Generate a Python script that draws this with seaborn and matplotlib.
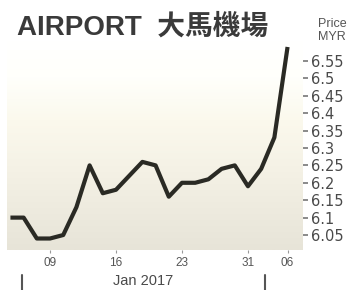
import numpy as np
import pandas as pd
import seaborn as sns
import matplotlib.pyplot as plt
import matplotlib.transforms as mtransforms
from matplotlib.ticker import FuncFormatter

# trading days, Jan 4 2017 .. Feb 6 2017
day_labels = ['04', '05', '06', '09', '10', '11', '12', '13', '16', '17', '18',
              '19', '20', '23', '24', '25', '26', '27', '31', '02', '03', '06']
prices = [6.10, 6.10, 6.04, 6.04, 6.05, 6.13, 6.25, 6.17, 6.18, 6.22, 6.26,
          6.25, 6.16, 6.20, 6.20, 6.21, 6.24, 6.25, 6.19, 6.24, 6.33, 6.59]
xtick_days = [3, 8, 13, 18, 21]
ytick_values = [6.05, 6.1, 6.15, 6.2, 6.25, 6.3, 6.35, 6.4, 6.45, 6.5, 6.55]
month_label = 'Jan 2017'
month_marks = [0.9, 19.3]

df = pd.DataFrame({'day': np.arange(len(prices)), 'price': prices})

sns.set_style('white')
plt.rcParams['font.family'] = ['Liberation Sans', 'Noto Sans CJK TC', 'DejaVu Sans']

fig = plt.figure(figsize=(3.56, 2.90), dpi=100)
ax = fig.add_axes([7 / 356, 1 - 250 / 290, 296 / 356, 210 / 290])

# background gradient, white at top to beige at bottom
stops_pos = [0.0, 0.18, 0.38, 0.6, 1.0]
stops_col = np.array([[255, 255, 255], [255, 255, 251], [251, 249, 237],
                      [245, 242, 230], [231, 228, 216]]) / 255
rows = np.linspace(0, 1, 200)
grad = np.stack([np.interp(rows, stops_pos, stops_col[:, c]) for c in range(3)], axis=1)
ax.imshow(grad[:, None, :], extent=[0, 1, 0, 1], transform=ax.transAxes,
          aspect='auto', zorder=0, interpolation='bilinear')

sns.lineplot(data=df, x='day', y='price', ax=ax, color='#2a2a24', linewidth=3.0,
             zorder=3)
for line in ax.lines:
    line.set_solid_joinstyle('round')
    line.set_solid_capstyle('butt')

ax.set_xlim(-0.26, 22.17)
ax.set_ylim(6.007, 6.61)
for s in ax.spines.values():
    s.set_visible(False)
ax.set_xlabel('')
ax.set_ylabel('')

ax.yaxis.tick_right()
ax.set_yticks(ytick_values)
ax.yaxis.set_major_formatter(FuncFormatter(lambda v, p: '{:g}'.format(v)))
ax.tick_params(axis='y', direction='out', length=3.5, width=1.2, color='#777777',
               pad=2, labelsize=10.5, labelcolor='#4a4a4a', right=True, left=False)
for t in ax.get_yticklabels():
    t.set_family('DejaVu Sans')

ax.set_xticks(xtick_days)
ax.set_xticklabels([day_labels[i] for i in xtick_days])
ax.tick_params(axis='x', direction='out', length=2, width=0.8, color='#999999',
               pad=3, labelsize=8.5, labelcolor='#555555', bottom=True)

# month boundary bars
trans = mtransforms.blended_transform_factory(ax.transData, ax.transAxes)
for m in month_marks:
    ax.plot([m, m], [-0.12, -0.19], transform=trans, color='#555555',
            linewidth=1.5, clip_on=False)

fig.text(143 / 356, 1 - 285 / 290, month_label, ha='center', va='baseline',
         fontsize=10.5, color='#4a4a4a')
fig.text(17 / 356, 1 - 35 / 290, 'AIRPORT  大馬機場', ha='left', va='baseline',
         fontsize=20, fontweight='bold', color='#3a3a3a')
fig.text(318 / 356, 1 - 18 / 290, 'Price\nMYR', ha='left', va='top',
         fontsize=9, color='#555555', linespacing=1.1)

fig.savefig('out.png', dpi=100, facecolor='white')
